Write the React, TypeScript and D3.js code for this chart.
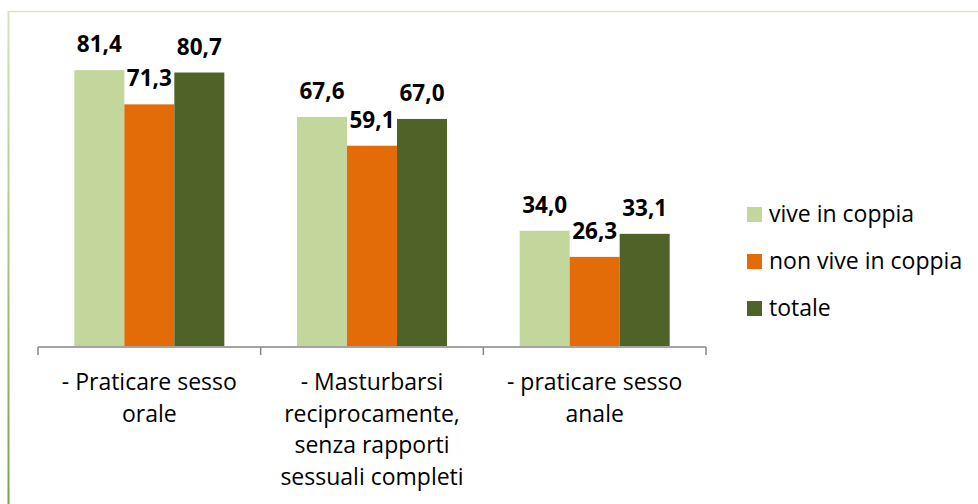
import { useEffect, useRef } from "react";
import * as d3 from "d3";

const categories = [
  ["- Praticare sesso", "orale"],
  ["- Masturbarsi", "reciprocamente,", "senza rapporti", "sessuali completi"],
  ["- praticare sesso", "anale"],
];
const seriesNames = ["vive in coppia", "non vive in coppia", "totale"];
const colors = ["#C3D69B", "#E36C09", "#4F6228"];
const viveInCoppia = [81.4, 67.6, 34.0];
const nonViveInCoppia = [71.3, 59.1, 26.3];
const totale = [80.7, 67.0, 33.1];

const W = 978;
const H = 504;
const FONT = "Open Sans, sans-serif";

const App = () => {
  const ref = useRef<SVGSVGElement | null>(null);

  useEffect(() => {
    const svg = d3.select(ref.current);
    svg.selectAll("*").remove();

    const series = [viveInCoppia, nonViveInCoppia, totale];
    const fmt = (v: number) => v.toFixed(1).replace(".", ",");

    // frame
    const defs = svg.append("defs");
    const grad = defs
      .append("linearGradient")
      .attr("id", "edge")
      .attr("x1", 0)
      .attr("y1", 0)
      .attr("x2", 0)
      .attr("y2", 1);
    grad.append("stop").attr("offset", "0%").attr("stop-color", "#D7E4BD");
    grad.append("stop").attr("offset", "100%").attr("stop-color", "#77A34A");

    svg
      .append("line")
      .attr("x1", 8)
      .attr("x2", W)
      .attr("y1", 11.5)
      .attr("y2", 11.5)
      .attr("stroke", "#D7E4BD")
      .attr("stroke-width", 1.5);
    svg
      .append("rect")
      .attr("x", 7.5)
      .attr("y", 11)
      .attr("width", 2)
      .attr("height", H - 11)
      .attr("fill", "url(#edge)");

    const x0 = d3
      .scaleBand<number>()
      .domain(d3.range(categories.length))
      .range([38, 706]);
    const x1 = d3
      .scaleBand<number>()
      .domain(d3.range(seriesNames.length))
      .range([0, 150]);
    const offset = (x0.bandwidth() - 150) / 2;

    const y = d3.scaleLinear().domain([0, 90]).range([346, 41]);

    const groups = svg
      .append("g")
      .selectAll("g")
      .data(categories)
      .join("g")
      .attr("transform", (_, i) => `translate(${x0(i)! + offset},0)`);

    groups
      .selectAll("rect")
      .data((_, i) => series.map((s, k) => ({ k, v: s[i] })))
      .join("rect")
      .attr("x", (d) => x1(d.k)!)
      .attr("y", (d) => y(d.v))
      .attr("width", x1.bandwidth())
      .attr("height", (d) => y(0) - y(d.v))
      .attr("fill", (d) => colors[d.k]);

    groups
      .selectAll("text")
      .data((_, i) => series.map((s, k) => ({ k, v: s[i] })))
      .join("text")
      .attr("x", (d) => x1(d.k)! + x1.bandwidth() / 2)
      .attr("y", (d) => y(d.v) - 18)
      .attr("text-anchor", "middle")
      .attr("font-family", FONT)
      .attr("font-weight", "bold")
      .attr("font-size", 22.5)
      .attr("fill", "#000")
      .text((d) => fmt(d.v));

    // axis
    const axis = svg.append("g").attr("stroke", "#868686").attr("stroke-width", 1.5);
    axis
      .append("line")
      .attr("x1", 38)
      .attr("x2", 706)
      .attr("y1", 347)
      .attr("y2", 347);
    axis
      .selectAll("line.tick")
      .data(d3.range(categories.length + 1))
      .join("line")
      .attr("class", "tick")
      .attr("x1", (i) => (i < categories.length ? x0(i)! : 706))
      .attr("x2", (i) => (i < categories.length ? x0(i)! : 706))
      .attr("y1", 347)
      .attr("y2", 355);

    svg
      .append("g")
      .selectAll("text")
      .data(categories)
      .join("text")
      .attr("x", (_, i) => x0(i)! + x0.bandwidth() / 2)
      .attr("y", 390)
      .attr("text-anchor", "middle")
      .attr("font-family", FONT)
      .attr("font-size", 23)
      .attr("fill", "#000")
      .each(function (lines) {
        const t = d3.select(this);
        lines.forEach((l, j) => {
          t.append("tspan")
            .attr("x", t.attr("x"))
            .attr("dy", j === 0 ? 0 : 31.5)
            .text(l);
        });
      });

    // legend
    const legend = svg
      .append("g")
      .selectAll("g")
      .data(seriesNames)
      .join("g")
      .attr("transform", (_, i) => `translate(747,${207 + i * 47})`);
    legend
      .append("rect")
      .attr("width", 15)
      .attr("height", 15)
      .attr("fill", (_, i) => colors[i]);
    legend
      .append("text")
      .attr("x", 22)
      .attr("y", 15)
      .attr("font-family", FONT)
      .attr("font-size", 23)
      .attr("fill", "#000")
      .text((d) => d);
  }, []);

  return (
    <svg
      ref={ref}
      width={W}
      height={H}
      style={{ position: "absolute", left: 0, top: 0, background: "#fff" }}
    />
  );
};

export default App;
